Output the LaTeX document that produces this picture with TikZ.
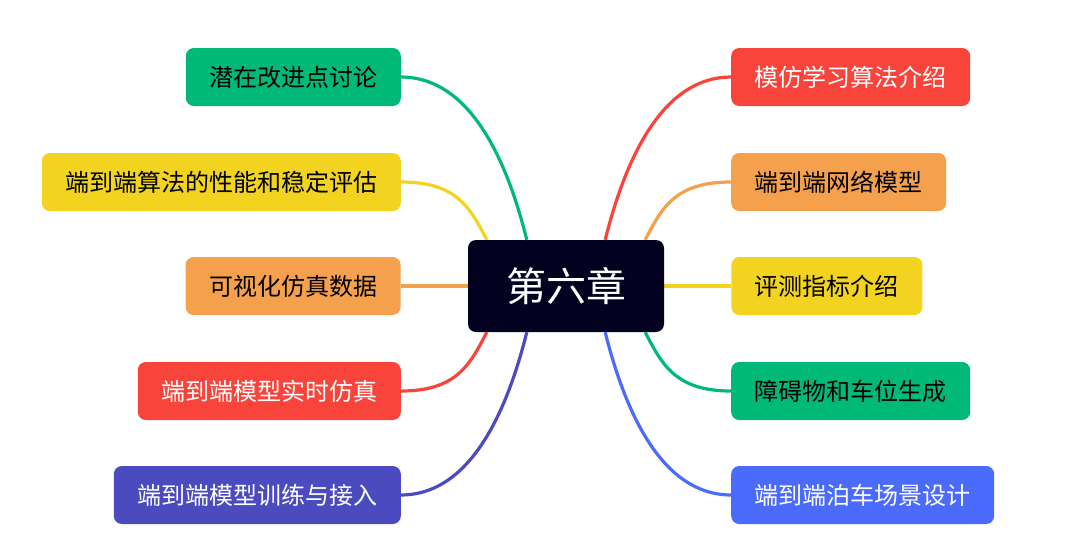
\documentclass[tikz,border=0pt]{standalone}
\usepackage{fontspec}
\newfontfamily\cjk{Noto Sans CJK SC}
\usetikzlibrary{positioning,calc,backgrounds}
\definecolor{mgreen}{HTML}{00B978}
\definecolor{myellow}{HTML}{F1D320}
\definecolor{morange}{HTML}{F5A04D}
\definecolor{mred}{HTML}{F9443C}
\definecolor{mpurple}{HTML}{4C4ABF}
\definecolor{mblue}{HTML}{4B6BFD}
\definecolor{mnavy}{HTML}{020220}

\begin{document}
\begin{tikzpicture}[x=1pt,y=-1pt,node distance=67pt,
    topic/.style={rounded corners=8pt,minimum height=58pt,inner xsep=23.5pt,inner ysep=0pt,
      font=\cjk\fontsize{24}{28}\selectfont},
    ltopic/.style={topic,anchor=east},
    rtopic/.style={topic,anchor=west},
    branch/.style={line width=3.2pt}]
  \useasboundingbox (0,0) rectangle (1080,558);
  \node[fill=mnavy,text=white,rounded corners=8pt,minimum width=196pt,minimum height=92pt,
    font=\cjk\fontsize{40}{48}\selectfont] (ctr) at (566,286) {第六章};
  % left side
  \node[ltopic,fill=mgreen] (l1) at (401,77) {潜在改进点讨论};
  \node[ltopic,fill=myellow] (l2) at (401,182) {端到端算法的性能和稳定评估};
  \node[ltopic,fill=morange,left=of ctr] (l3) {可视化仿真数据};
  \node[ltopic,fill=mred,text=white] (l4) at (401,391) {端到端模型实时仿真};
  \node[ltopic,fill=mpurple,text=white] (l5) at (401,495) {端到端模型训练与接入};
  % right side
  \node[rtopic,fill=mred,text=white] (r1) at (731,77) {模仿学习算法介绍};
  \node[rtopic,fill=morange] (r2) at (731,182) {端到端网络模型};
  \node[rtopic,fill=myellow,right=of ctr] (r3) {评测指标介绍};
  \node[rtopic,fill=mgreen] (r4) at (731,391) {障碍物和车位生成};
  \node[rtopic,fill=mblue,text=white] (r5) at (731,495) {端到端泊车场景设计};
  % branches
  \begin{scope}[on background layer]
  \draw[branch,mgreen] (l1.east) .. controls +(60,0) and +(-25,-100) .. ($(ctr.north west)+(59,0)$);
  \draw[branch,myellow] (l2.east) .. controls +(55,0) and +(-17,-33) .. ($(ctr.north west)+(19,0)$);
  \draw[branch,morange] (l3) -- (ctr);
  \draw[branch,mred] (l4.east) .. controls +(55,0) and +(-17,33) .. ($(ctr.south west)+(19,0)$);
  \draw[branch,mpurple] (l5.east) .. controls +(60,0) and +(-25,100) .. ($(ctr.south west)+(59,0)$);
  \draw[branch,mred] (r1.west) .. controls +(-60,0) and +(25,-100) .. ($(ctr.north east)+(-59,0)$);
  \draw[branch,morange] (r2.west) .. controls +(-55,0) and +(17,-33) .. ($(ctr.north east)+(-19,0)$);
  \draw[branch,myellow] (r3) -- (ctr);
  \draw[branch,mgreen] (r4.west) .. controls +(-55,0) and +(17,33) .. ($(ctr.south east)+(-19,0)$);
  \draw[branch,mblue] (r5.west) .. controls +(-60,0) and +(25,100) .. ($(ctr.south east)+(-59,0)$);
  \end{scope}
\end{tikzpicture}
\end{document}
